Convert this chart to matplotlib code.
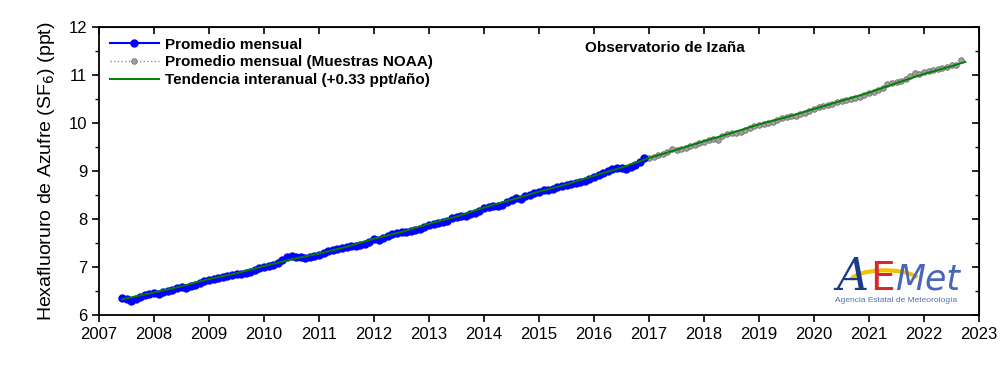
import numpy as np
import matplotlib
matplotlib.use("Agg")
import matplotlib.pyplot as plt
from matplotlib.ticker import MultipleLocator
from matplotlib.patches import Arc

plt.rcParams["font.family"] = ["Liberation Sans", "DejaVu Sans"]

# monthly means, Izaña (Jun 2007 - Dec 2016)
izana_start = 2007 + 5 / 12
izana_ppt = [
    6.36, 6.33, 6.30, 6.33, 6.38, 6.42, 6.44,
    6.45, 6.44, 6.48, 6.51, 6.53, 6.56, 6.58, 6.57, 6.60, 6.62, 6.66, 6.70,
    6.73, 6.75, 6.77, 6.79, 6.81, 6.83, 6.85, 6.86, 6.87, 6.90, 6.93, 6.97,
    7.01, 7.03, 7.04, 7.08, 7.15, 7.20, 7.22, 7.21, 7.20, 7.19, 7.21, 7.24,
    7.26, 7.30, 7.33, 7.35, 7.37, 7.40, 7.42, 7.43, 7.44, 7.46, 7.49, 7.52,
    7.58, 7.57, 7.60, 7.64, 7.68, 7.70, 7.72, 7.73, 7.75, 7.78, 7.80, 7.84,
    7.88, 7.90, 7.91, 7.93, 7.95, 8.02, 8.05, 8.06, 8.07, 8.10, 8.12, 8.17,
    8.22, 8.26, 8.28, 8.27, 8.30, 8.35, 8.40, 8.44, 8.42, 8.47, 8.51, 8.54,
    8.57, 8.60, 8.61, 8.63, 8.66, 8.68, 8.70, 8.72, 8.74, 8.77, 8.80, 8.84,
    8.88, 8.92, 8.95, 8.99, 9.04, 9.06, 9.06, 9.05, 9.08, 9.13, 9.19, 9.26,
]

# monthly means from NOAA flask samples (Jan 2017 - Sep 2022)
noaa_start = 2017.0
noaa_ppt = [
    9.27, 9.30, 9.33, 9.36, 9.40, 9.45, 9.44, 9.46, 9.48, 9.52, 9.55, 9.58,
    9.60, 9.65, 9.67, 9.64, 9.72, 9.76, 9.80, 9.78, 9.82, 9.86, 9.90, 9.93,
    9.96, 9.98, 10.00, 10.02, 10.06, 10.10, 10.12, 10.14, 10.15, 10.18, 10.20, 10.25,
    10.30, 10.33, 10.35, 10.37, 10.40, 10.43, 10.46, 10.48, 10.50, 10.52, 10.55, 10.58,
    10.62, 10.65, 10.68, 10.72, 10.80, 10.84, 10.86, 10.88, 10.92, 10.98, 11.04, 11.02,
    11.05, 11.08, 11.10, 11.13, 11.15, 11.17, 11.20, 11.20, 11.32,
]

# interannual trend
trend_year = [2007.42, 2008.0, 2008.5, 2009.0, 2009.5, 2010.0, 2010.5, 2011.0,
              2011.5, 2012.0, 2012.5, 2013.0, 2013.5, 2014.0, 2014.5, 2015.0,
              2015.5, 2016.0, 2016.5, 2017.0, 2017.5, 2018.0, 2018.5, 2019.0,
              2019.5, 2020.0, 2020.5, 2021.0, 2021.5, 2022.0, 2022.5, 2022.75]
trend_ppt = [6.33, 6.47, 6.60, 6.75, 6.87, 7.02, 7.16, 7.28,
             7.42, 7.59, 7.73, 7.90, 8.05, 8.24, 8.40, 8.57,
             8.72, 8.90, 9.07, 9.27, 9.44, 9.62, 9.79, 9.97,
             10.12, 10.29, 10.46, 10.63, 10.83, 11.02, 11.18, 11.27]

izana_t = izana_start + np.arange(len(izana_ppt)) / 12
noaa_t = noaa_start + np.arange(len(noaa_ppt)) / 12

fig = plt.figure(figsize=(10, 3.89), dpi=100)
ax = fig.add_axes([0.099, 0.190, 0.880, 0.741])

ax.plot(izana_t, izana_ppt, color="#0000ff", lw=1.5, marker="o", ms=5,
        label="Promedio mensual", zorder=3)
ax.plot(noaa_t, noaa_ppt, color="#909090", lw=1.0, ls=":", marker="o", ms=4,
        mfc="#a0a0a0", mec="#707070", mew=0.6,
        label="Promedio mensual (Muestras NOAA)", zorder=2)
ax.plot(trend_year, trend_ppt, color="#008000", lw=1.4,
        label="Tendencia interanual (+0.33 ppt/año)", zorder=4)

ax.set_xlim(2007, 2023)
ax.set_ylim(6, 12)
ax.xaxis.set_major_locator(MultipleLocator(1))
ax.yaxis.set_major_locator(MultipleLocator(1))
ax.yaxis.set_minor_locator(MultipleLocator(0.5))

for s in ax.spines.values():
    s.set_linewidth(1.3)
ax.tick_params(axis="both", which="major", labelsize=12, length=5, width=1.2,
               direction="out")
ax.tick_params(axis="y", which="minor", length=3, width=1.0, direction="out")

# inward ticks on the top and right edges
sec_x = ax.secondary_xaxis("top")
sec_x.xaxis.set_major_locator(MultipleLocator(1))
sec_x.tick_params(direction="in", length=5, width=1.2, labeltop=False)
sec_y = ax.secondary_yaxis("right")
sec_y.yaxis.set_major_locator(MultipleLocator(1))
sec_y.yaxis.set_minor_locator(MultipleLocator(0.5))
sec_y.tick_params(which="major", direction="in", length=5, width=1.2, labelright=False)
sec_y.tick_params(which="minor", direction="in", length=3, width=1.0)

ax.set_ylabel("Hexafluoruro de Azufre (SF$_6$) (ppt)", fontsize=14, labelpad=8)

ax.legend(loc="upper left", frameon=False, handlelength=3.2,
          borderaxespad=0.3, handletextpad=0.4, labelspacing=0.25,
          prop={"weight": "bold", "size": 11})

ax.text(0.643, 0.927, "Observatorio de Izaña", transform=ax.transAxes,
        ha="center", va="center", fontsize=11, fontweight="bold")

# AEMet logo (text rendering)
fig.text(0.836, 0.255, "A", color="#1c3a8c", fontsize=32, style="italic",
         family="DejaVu Serif")
fig.text(0.870, 0.255, "E", color="#d8262a", fontsize=28, family="DejaVu Sans")
fig.text(0.895, 0.255, "Met", color="#4a66b8", fontsize=25, style="italic",
         family="DejaVu Sans")
fig.patches.append(Arc((0.885, 0.275), 0.07, 0.06, theta1=20, theta2=170,
                       transform=fig.transFigure, color="#f2c200", lw=3))
fig.text(0.896, 0.228, "Agencia Estatal de Meteorología", color="#5570b0",
         fontsize=6, ha="center", va="center")

fig.savefig("out.png", dpi=100)
